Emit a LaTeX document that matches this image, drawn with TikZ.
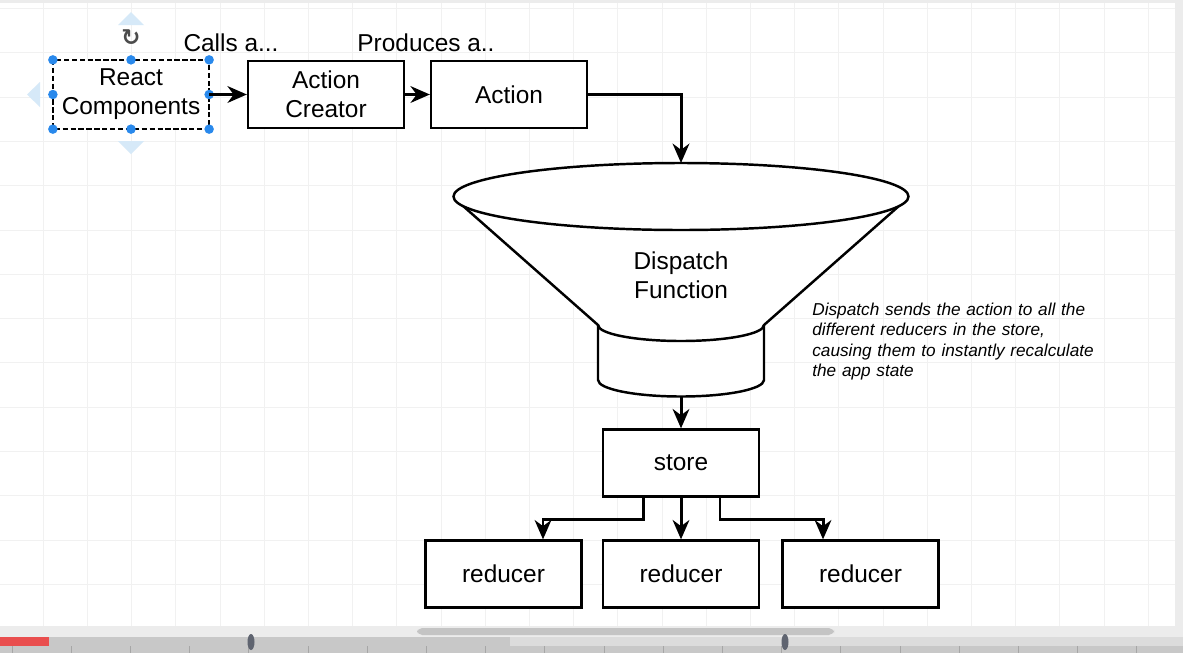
\documentclass[tikz,border=0pt]{standalone}
\usepackage{fontspec}
\setmainfont{Liberation Sans}
\newfontfamily\symfont{DejaVu Sans}
\definecolor{gridgray}{RGB}{241,241,241}
\definecolor{handleblue}{RGB}{41,137,236}
\definecolor{hintblue}{RGB}{214,233,248}
\definecolor{uilight}{RGB}{236,236,236}
\definecolor{uimid}{RGB}{220,220,220}
\definecolor{uidark}{RGB}{200,200,200}
\definecolor{uithumb}{RGB}{196,196,196}
\definecolor{uired}{RGB}{233,78,78}
\definecolor{uiknob}{RGB}{95,100,112}
\newcommand{\diagfont}{\fontsize{13.9}{16.4}\selectfont}
\newcommand{\notefont}{\fontsize{9.8}{11.6}\selectfont\itshape}
\usetikzlibrary{arrows.meta,positioning,calc}

\begin{document}
\begin{tikzpicture}[x=0.02cm,y=-0.02cm,
  box/.style={draw,line width=1.3pt,fill=white,inner sep=0pt,align=center,
    font=\diagfont,minimum width=3.12cm,minimum height=1.34cm},
  arr/.style={draw,line width=1.7pt,-{Stealth[length=11pt,width=9.5pt,inset=3.5pt]}},
  gridline/.style={draw=gridgray,line width=0.5pt},
  handle/.style={circle,fill=handleblue,inner sep=0pt,minimum size=0.19cm},
  hint/.style={fill=hintblue,draw=none}
]
  \useasboundingbox (0,0) rectangle (1183,653);
  % Canvas and grid
  \fill[white] (0,0) rectangle (1183,653);
  \foreach \i in {0,...,26} \draw[gridline] (\i*44.2-1,3) -- (\i*44.2-1,626);
  \foreach \j in {0,...,14} \draw[gridline] (0,8.5+\j*44.3) -- (1175,8.5+\j*44.3);

  % Top row
  \node[box,draw=none,minimum width=3.08cm] (react) at (131,94.5) {React\\Components};
  \node[box] (creator) at (326,94.5) {Action\\Creator};
  \node[box] (action) at (509,94.5) {Action};
  \node[font=\diagfont] (calls) at (231,43) {Calls a...};
  \node[font=\diagfont] (produces) at (426,43) {Produces a..};

  % Selection of the React box
  \draw[line width=0.9pt,dash pattern=on 3pt off 1.5pt] (react.north west) rectangle (react.south east);
  \foreach \a in {north west,north,north east,east,south east,south,south west,west}
    \node[handle] at (react.\a) {};
  \fill[hint] (118,25) -- (144,25) -- (131,12) -- cycle;
  \fill[hint] (118,141) -- (144,141) -- (131,154) -- cycle;
  \fill[hint] (40,82) -- (40,107) -- (27,94.5) -- cycle;
  \node[font=\symfont\fontsize{13}{13}\selectfont\bfseries,text=black!70] (rotate) at (131,38) {↻};

  \draw[arr] (react.east) -- (creator.west);
  \draw[arr] (creator.east) -- (action.west);

  % Funnel
  \coordinate (fntop) at (681,163);
  \coordinate (fnbot) at (681,397);
  \fill[white] (454,198) -- (598,325) -- (598,380) arc (180:0:83 and 16.5)
    -- (764,325) -- (908,198) -- cycle;
  \draw[line width=1.4pt,line join=round] (454,198) -- (598,325) -- (598,380)
    arc (180:0:83 and 16.5) -- (764,325) -- (908,198);
  \draw[line width=1.4pt] (598,325) arc (180:0:83 and 16);
  \draw[line width=1.4pt,fill=white] (681,196.5) ellipse (227.5 and 33.5);
  \node[font=\diagfont,align=center] (dispatch) at (681,275) {Dispatch\\Function};
  \node[font=\notefont,align=left,text width=6.2cm,inner sep=0pt,anchor=north west]
    (note) at (812,302.5) {Dispatch sends the action to all the\\
    different reducers in the store,\\
    causing them to instantly recalculate\\
    the app state};

  \draw[arr] (action.east) -| (fntop);

  % Store and reducers
  \node[box] (store) at (681,463) {store};
  \node[box] (red1) at (503.5,574) {reducer};
  \node[box] (red2) at (681,574) {reducer};
  \node[box] (red3) at (860.5,574) {reducer};

  \draw[arr] (fnbot) -- (store.north);
  \draw[arr] (store.south) -- (red2.north);
  \draw[arr] ([xshift=-0.76cm]store.south) -- ++(0,21.5) -| ([xshift=0.79cm]red1.north);
  \draw[arr] ([xshift=0.78cm]store.south) -- ++(0,21.5) -| ([xshift=-0.75cm]red3.north);

  % Editor frame
  \fill[uilight] (0,0) rectangle (1183,3);
  \fill[uilight] (1175,3) rectangle (1183,626);
  \fill[uilight] (0,626) rectangle (1183,637);
  \fill[uimid] (0,637) rectangle (1183,653);
  \fill[uidark] (0,637) rectangle (510,646);
  \fill[uidark] (0,646) rectangle (1183,653);
  \fill[uithumb,rounded corners=3pt] (417,628) rectangle (834,635);
  \fill[uired] (0,637) rectangle (49,646);
  \foreach \k in {0,...,20} \draw[black!35,line width=0.4pt] (\k*59.2+12,646) -- (\k*59.2+12,653);
  \fill[uiknob] (251,642) ellipse (3.5 and 8);
  \fill[uiknob] (785,642) ellipse (3.5 and 8);
\end{tikzpicture}
\end{document}
